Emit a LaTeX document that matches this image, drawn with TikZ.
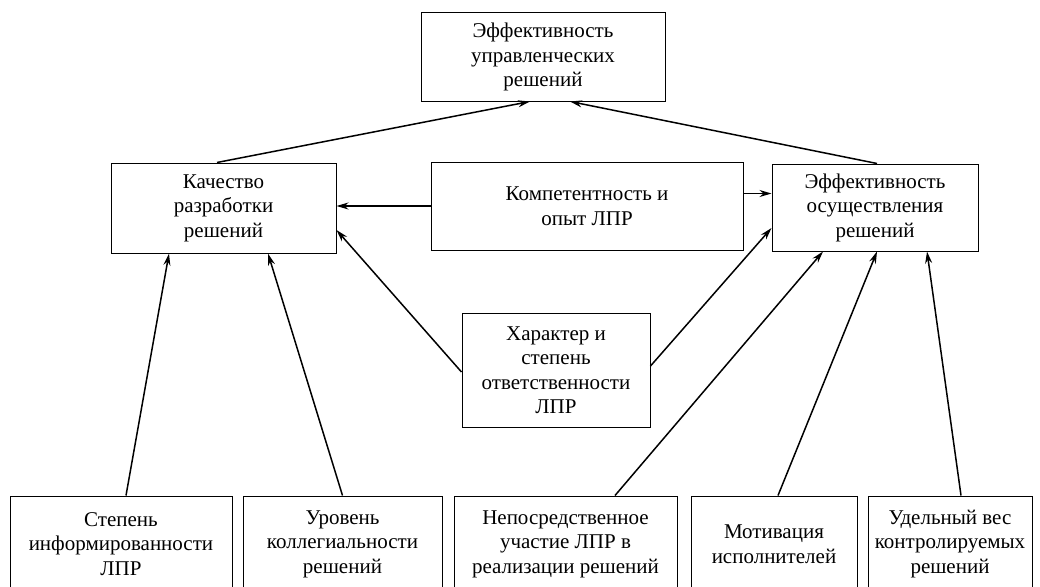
\documentclass[tikz,border=0pt]{standalone}
\usepackage{fontspec}
\setmainfont{Liberation Serif}
\usetikzlibrary{arrows.meta}
\begin{document}
\begin{tikzpicture}[x=1pt, y=-1pt, boxStyle/.style={rectangle, draw, line width=1pt, inner sep=0pt, align=center, font=\fontsize{21}{24.5}\selectfont}, arrowStyle/.style={line width=1.5pt, -{Stealth[length=12pt, width=7pt]}}]
                    \clip (0, 0) rectangle (1040, 586);

                    \node[boxStyle, minimum width=244pt, minimum height=88pt] (top_0) at (543, 57) {Эффективность\\управленческих\\решений};

                    \node[boxStyle, minimum width=225pt, minimum height=90pt] (mid_0) at (223.5, 208) {Качество\\разработки\\решений};
                    \node[boxStyle, minimum width=312pt, minimum height=88pt] (mid_1) at (587, 206) {Компетентность и\\опыт ЛПР};
                    \node[boxStyle, minimum width=206pt, minimum height=87pt] (mid_2) at (875, 207.5) {Эффективность\\осуществления\\решений};
                    \node[boxStyle, minimum width=188pt, minimum height=114pt] (mid_3) at (556, 370) {Характер и\\степень\\ответственности\\ЛПР};

                    \node[boxStyle, minimum width=222pt, minimum height=96pt] (low_0) at (121, 544) {Степень\\информированности\\ЛПР};
                    \node[boxStyle, minimum width=199pt, minimum height=96pt] (low_1) at (342.5, 544) {Уровень\\коллегиальности\\решений};
                    \node[boxStyle, minimum width=223pt, minimum height=96pt] (low_2) at (565.5, 544) {Непосредственное\\участие ЛПР в\\реализации решений};
                    \node[boxStyle, minimum width=166pt, minimum height=96pt] (low_3) at (774, 544) {Мотивация\\исполнителей};
                    \node[boxStyle, minimum width=164pt, minimum height=96pt] (low_4) at (950, 544) {Удельный вес\\контролируемых\\решений};

                    \draw[arrowStyle] ([xshift=-6.5pt]mid_0.north) -- ([xshift=-13pt]top_0.south);
                    \draw[arrowStyle] ([xshift=2pt]mid_2.north) -- ([xshift=27pt]top_0.south);

                    \draw[arrowStyle] (mid_1.west) -- (mid_1.west -| mid_0.east);
                    \draw[arrowStyle] ([yshift=14pt]mid_2.west -| mid_1.east) -- ([yshift=14pt]mid_2.west);
                    \draw[arrowStyle] ([yshift=-2pt]mid_3.west) -- ([yshift=-22pt]mid_0.east);
                    \draw[arrowStyle] ([yshift=4pt]mid_3.east) -- ([yshift=-20.5pt]mid_2.west);

                    \draw[arrowStyle] ([xshift=5pt]low_0.north) -- ([xshift=-54.5pt]mid_0.south);
                    \draw[arrowStyle] (low_1.north) -- ([xshift=44.5pt]mid_0.south);
                    \draw[arrowStyle] ([xshift=49.5pt]low_2.north) -- ([xshift=-52pt]mid_2.south);
                    \draw[arrowStyle] ([xshift=4pt]low_3.north) -- ([xshift=2pt]mid_2.south);
                    \draw[arrowStyle] ([xshift=11pt]low_4.north) -- ([xshift=52pt]mid_2.south);
                \end{tikzpicture}
\end{document}
